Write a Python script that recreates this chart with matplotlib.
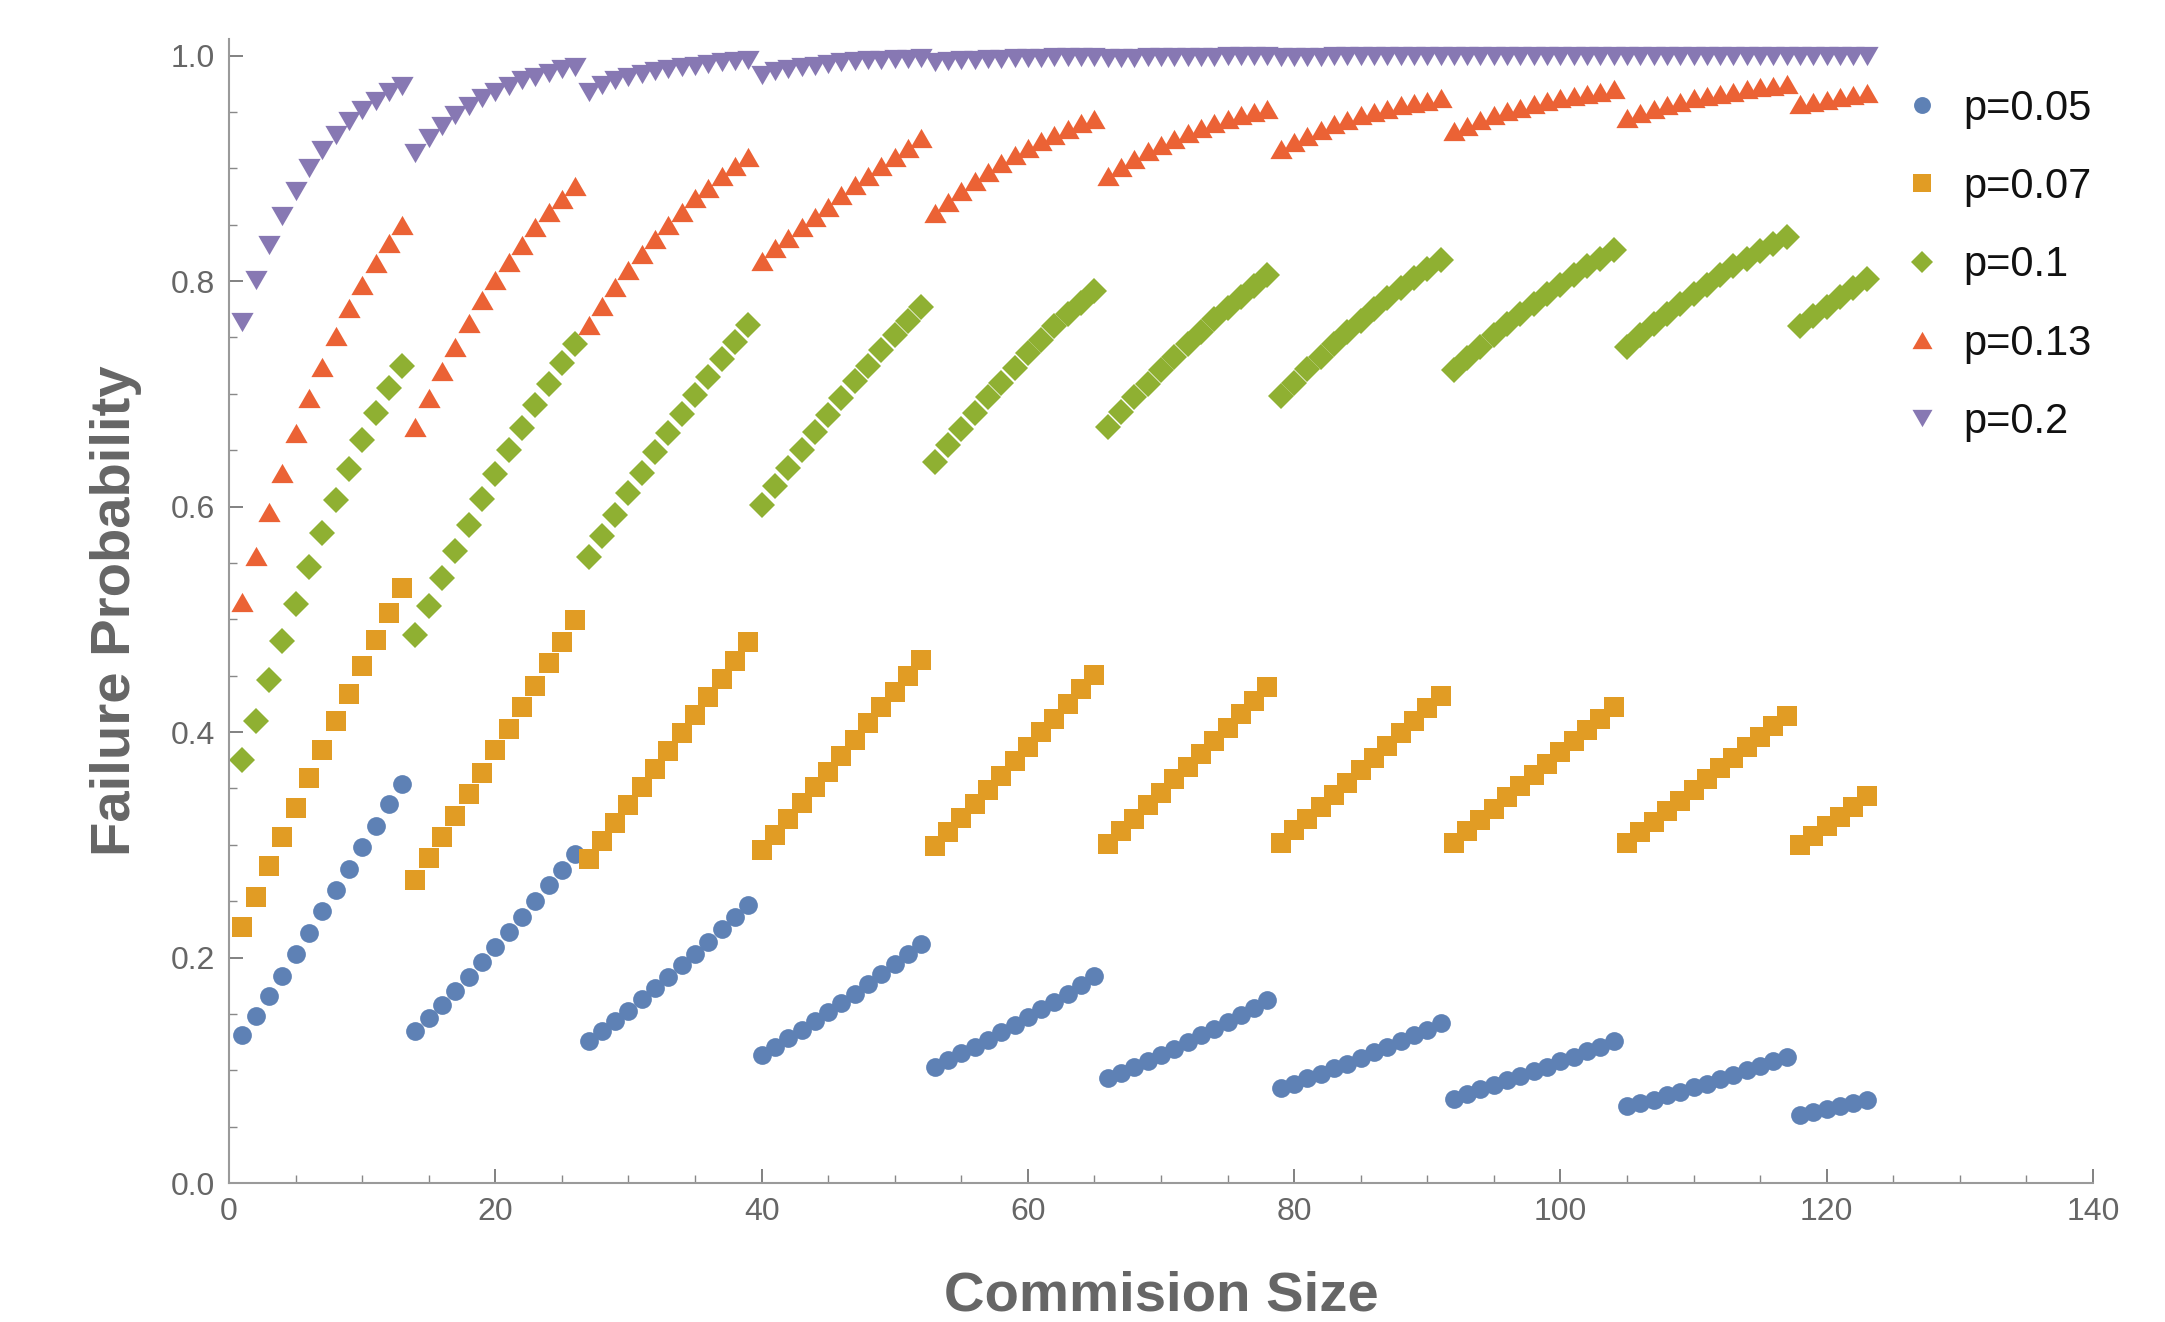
import matplotlib
matplotlib.use("Agg")
import matplotlib.pyplot as plt
from matplotlib.ticker import MultipleLocator, FormatStrFormatter

# ---------------- data ----------------
commission_size = list(range(1, 124))
series_labels = ["p=0.05", "p=0.07", "p=0.1", "p=0.13", "p=0.2"]

p005 = [
    0.131, 0.148, 0.166, 0.184, 0.203, 0.222, 0.241, 0.260, 0.279, 0.298, 0.317, 0.336, 0.354,
    0.135, 0.146, 0.158, 0.170, 0.183, 0.196, 0.209, 0.223, 0.236, 0.250, 0.264, 0.278, 0.292,
    0.126, 0.135, 0.144, 0.153, 0.163, 0.173, 0.183, 0.193, 0.203, 0.214, 0.225, 0.236, 0.247,
    0.114, 0.121, 0.129, 0.136, 0.144, 0.152, 0.160, 0.168, 0.177, 0.185, 0.194, 0.203, 0.212,
    0.103, 0.109, 0.115, 0.121, 0.127, 0.134, 0.140, 0.147, 0.154, 0.161, 0.168, 0.176, 0.184,
    0.093, 0.098, 0.103, 0.108, 0.114, 0.119, 0.125, 0.131, 0.137, 0.143, 0.149, 0.155, 0.162,
    0.084, 0.088, 0.093, 0.097, 0.102, 0.106, 0.111, 0.116, 0.121, 0.126, 0.131, 0.136, 0.142,
    0.075, 0.079, 0.083, 0.087, 0.091, 0.095, 0.099, 0.103, 0.108, 0.112, 0.117, 0.121, 0.126,
    0.068, 0.071, 0.074, 0.078, 0.081, 0.085, 0.088, 0.092, 0.096, 0.100, 0.104, 0.108, 0.112,
    0.060, 0.063, 0.066, 0.068, 0.071, 0.074,
]

p007 = [
    0.227, 0.254, 0.281, 0.307, 0.333, 0.359, 0.384, 0.410, 0.434, 0.459, 0.482, 0.506, 0.528,
    0.269, 0.288, 0.307, 0.326, 0.345, 0.364, 0.384, 0.403, 0.422, 0.441, 0.461, 0.480, 0.499,
    0.287, 0.303, 0.319, 0.335, 0.351, 0.367, 0.383, 0.399, 0.415, 0.431, 0.447, 0.463, 0.480,
    0.295, 0.309, 0.323, 0.337, 0.351, 0.365, 0.379, 0.393, 0.408, 0.422, 0.436, 0.450, 0.464,
    0.299, 0.311, 0.324, 0.336, 0.349, 0.361, 0.374, 0.387, 0.400, 0.412, 0.425, 0.438, 0.451,
    0.301, 0.312, 0.323, 0.335, 0.346, 0.358, 0.369, 0.381, 0.392, 0.404, 0.416, 0.428, 0.440,
    0.302, 0.313, 0.323, 0.334, 0.344, 0.355, 0.366, 0.377, 0.388, 0.399, 0.410, 0.421, 0.432,
    0.302, 0.312, 0.322, 0.332, 0.342, 0.352, 0.362, 0.372, 0.382, 0.392, 0.402, 0.412, 0.422,
    0.302, 0.311, 0.320, 0.330, 0.339, 0.349, 0.358, 0.368, 0.377, 0.387, 0.396, 0.405, 0.414,
    0.300, 0.308, 0.317, 0.325, 0.334, 0.343,
]

p010 = [
    0.375, 0.410, 0.446, 0.481, 0.514, 0.546, 0.577, 0.606, 0.633, 0.659, 0.683, 0.705, 0.725,
    0.486, 0.512, 0.537, 0.561, 0.584, 0.607, 0.629, 0.650, 0.670, 0.690, 0.709, 0.727, 0.744,
    0.555, 0.574, 0.593, 0.612, 0.630, 0.648, 0.665, 0.682, 0.699, 0.715, 0.731, 0.746, 0.761,
    0.601, 0.618, 0.634, 0.650, 0.666, 0.681, 0.696, 0.711, 0.725, 0.739, 0.752, 0.765, 0.777,
    0.640, 0.655, 0.669, 0.683, 0.697, 0.710, 0.723, 0.736, 0.748, 0.760, 0.771, 0.781, 0.791,
    0.671, 0.684, 0.697, 0.709, 0.721, 0.733, 0.744, 0.755, 0.766, 0.776, 0.786, 0.796, 0.805,
    0.698, 0.710, 0.722, 0.733, 0.744, 0.755, 0.765, 0.775, 0.785, 0.794, 0.803, 0.811, 0.819,
    0.721, 0.732, 0.742, 0.752, 0.762, 0.771, 0.780, 0.789, 0.797, 0.805, 0.813, 0.820, 0.828,
    0.742, 0.752, 0.762, 0.771, 0.780, 0.789, 0.797, 0.805, 0.813, 0.820, 0.827, 0.833, 0.839,
    0.760, 0.769, 0.777, 0.786, 0.794, 0.802,
]

p013 = [
    0.515, 0.556, 0.595, 0.630, 0.665, 0.696, 0.724, 0.751, 0.776, 0.797, 0.816, 0.834, 0.850,
    0.671, 0.696, 0.720, 0.742, 0.763, 0.783, 0.801, 0.817, 0.832, 0.848, 0.861, 0.873, 0.884,
    0.761, 0.778, 0.795, 0.810, 0.824, 0.837, 0.850, 0.861, 0.874, 0.883, 0.893, 0.902, 0.910,
    0.818, 0.829, 0.838, 0.848, 0.857, 0.866, 0.876, 0.885, 0.893, 0.902, 0.910, 0.918, 0.927,
    0.860, 0.870, 0.880, 0.889, 0.897, 0.905, 0.912, 0.918, 0.924, 0.930, 0.935, 0.940, 0.944,
    0.893, 0.901, 0.908, 0.915, 0.921, 0.926, 0.931, 0.936, 0.940, 0.944, 0.947, 0.950, 0.953,
    0.917, 0.923, 0.929, 0.934, 0.939, 0.943, 0.947, 0.950, 0.953, 0.956, 0.958, 0.960, 0.962,
    0.933, 0.938, 0.943, 0.947, 0.951, 0.954, 0.957, 0.960, 0.962, 0.964, 0.966, 0.968, 0.970,
    0.945, 0.949, 0.953, 0.956, 0.959, 0.962, 0.964, 0.966, 0.968, 0.970, 0.972, 0.973, 0.975,
    0.957, 0.959, 0.961, 0.963, 0.965, 0.967,
]

p020 = [
    0.764, 0.801, 0.832, 0.858, 0.880, 0.900, 0.916, 0.930, 0.942, 0.952, 0.960, 0.968, 0.973,
    0.914, 0.927, 0.938, 0.947, 0.955, 0.962, 0.968, 0.973, 0.978, 0.981, 0.985, 0.988, 0.990,
    0.968, 0.974, 0.978, 0.981, 0.984, 0.986, 0.988, 0.990, 0.991, 0.993, 0.994, 0.995, 0.996,
    0.983, 0.986, 0.988, 0.990, 0.991, 0.993, 0.994, 0.995, 0.996, 0.996, 0.997, 0.997, 0.998,
    0.994, 0.995, 0.996, 0.996, 0.997, 0.997, 0.998, 0.998, 0.998, 0.999, 0.999, 0.999, 0.999,
    0.998, 0.998, 0.998, 0.999, 0.999, 0.999, 0.999, 0.999, 0.999, 1.000, 1.000, 1.000, 1.000,
    0.999, 0.999, 0.999, 0.999, 1.000, 1.000, 1.000, 1.000, 1.000, 1.000, 1.000, 1.000, 1.000,
    1.000, 1.000, 1.000, 1.000, 1.000, 1.000, 1.000, 1.000, 1.000, 1.000, 1.000, 1.000, 1.000,
    1.000, 1.000, 1.000, 1.000, 1.000, 1.000, 1.000, 1.000, 1.000, 1.000, 1.000, 1.000, 1.000,
    1.000, 1.000, 1.000, 1.000, 1.000, 1.000,
]

x_ticks = [0, 20, 40, 60, 80, 100, 120, 140]
y_ticks = [0.0, 0.2, 0.4, 0.6, 0.8, 1.0]

# ---------------- style ----------------
colors = ["#5E81B5", "#E19C24", "#8FB032", "#EB6235", "#8778B3"]
tri_up = [(-1, -0.866), (1, -0.866), (0, 0.866)]
tri_dn = [(-1, 0.866), (1, 0.866), (0, -0.866)]
markers = ["o", "s", "D", tri_up, tri_dn]
msizes = [13.5, 15, 12.8, 16, 16]

tick_font = ["Liberation Sans Narrow", "Liberation Sans", "DejaVu Sans"]
label_font = ["Liberation Sans", "DejaVu Sans"]
axis_gray = "#9a9a9a"
text_gray = "#666666"

fig = plt.figure(figsize=(21.65, 13.22), dpi=100)
ax = fig.add_axes([0.1058, 0.1051, 0.8609, 0.8656])

all_series = [p005, p007, p010, p013, p020]
for vals, lab, c, m, ms in zip(all_series, series_labels, colors, markers, msizes):
    ax.plot(commission_size, vals, linestyle="none", marker=m, markersize=ms,
            color=c, markeredgewidth=0, label=lab)

ax.set_xlim(0, 140)
ax.set_ylim(0, 1.015)
ax.set_xticks(x_ticks)
ax.set_yticks(y_ticks)
ax.xaxis.set_minor_locator(MultipleLocator(5))
ax.yaxis.set_minor_locator(MultipleLocator(0.05))
ax.yaxis.set_major_formatter(FormatStrFormatter("%.1f"))

for s in ["top", "right"]:
    ax.spines[s].set_visible(False)
for s in ["left", "bottom"]:
    ax.spines[s].set_color(axis_gray)
    ax.spines[s].set_linewidth(1.5)

ax.tick_params(which="major", direction="in", length=10, width=1.3, color="#777777",
               labelsize=23, labelcolor=text_gray, pad=10)
ax.tick_params(which="minor", direction="in", length=6, width=1.0, color="#888888")
for lbl in ax.get_xticklabels() + ax.get_yticklabels():
    lbl.set_family(tick_font)

ax.set_xlabel("Commision Size", fontsize=40.5, fontweight="bold", color=text_gray,
              family=label_font, labelpad=31)
ax.set_ylabel("Failure Probability", fontsize=40.5, fontweight="bold", color=text_gray,
              family=label_font, labelpad=21)

leg = ax.legend(loc="upper left", bbox_to_anchor=(0.878, 0.933), bbox_transform=fig.transFigure,
                frameon=False, fontsize=30, handlelength=1.0, handletextpad=0.5,
                labelspacing=0.92, borderpad=0, borderaxespad=0, markerscale=0.9)
for t in leg.get_texts():
    t.set_family(label_font)
    t.set_color("#111111")

fig.savefig("out.png", dpi=100)
